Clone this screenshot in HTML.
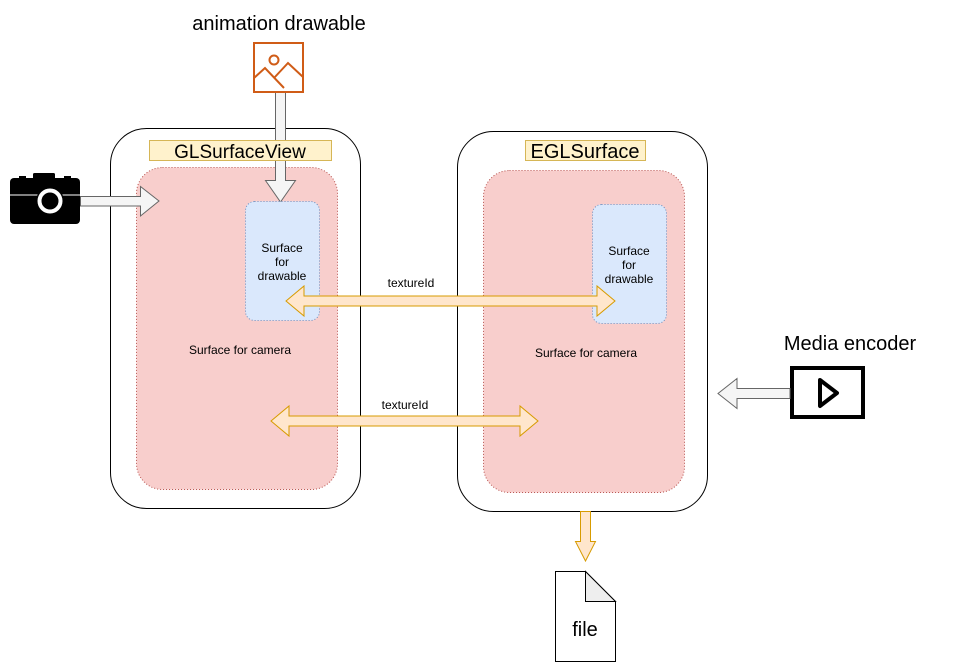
<!DOCTYPE html>
<html><head><meta charset="utf-8"><style>
html,body{margin:0;padding:0;background:#fff;width:961px;height:672px;overflow:hidden}
text{font-family:"Liberation Sans",sans-serif}
</style></head><body>
<svg width="961" height="672" viewBox="0 0 961 672" xmlns="http://www.w3.org/2000/svg">
<!-- GLSurfaceView -->
<rect x="110.5" y="128.5" width="250" height="380" rx="36" fill="#fff" stroke="#000"/>
<rect x="136.5" y="167.5" width="201" height="322" rx="26" fill="#f8cecc" stroke="#b85450" stroke-dasharray="1 2"/>
<polygon points="275.5,92.5 285.5,92.5 285.5,180.5 295.5,180.5 280.5,202 265.5,180.5 275.5,180.5" fill="#f5f5f5" stroke="#666"/>
<rect x="149.5" y="140.5" width="182" height="20" fill="#fff2cc" stroke="#d6b656"/>
<text x="240" y="158" font-size="19" text-anchor="middle">GLSurfaceView</text>
<rect x="245.5" y="201.5" width="74" height="119" rx="9" fill="#dae8fc" stroke="#6c8ebf" stroke-dasharray="1 2"/>
<text font-size="12" text-anchor="middle"><tspan x="282" y="252">Surface</tspan><tspan x="282" y="266">for</tspan><tspan x="282" y="280">drawable</tspan></text>
<text x="240" y="354" font-size="12" text-anchor="middle">Surface for camera</text>

<!-- EGLSurface -->
<rect x="457.5" y="131.5" width="250" height="380" rx="36" fill="#fff" stroke="#000"/>
<rect x="483.5" y="170.5" width="201" height="322" rx="26" fill="#f8cecc" stroke="#b85450" stroke-dasharray="1 2"/>
<rect x="525.5" y="140.5" width="120" height="20" fill="#fff2cc" stroke="#d6b656"/>
<text x="585" y="158" font-size="20" text-anchor="middle">EGLSurface</text>
<rect x="592.5" y="204.5" width="74" height="119" rx="9" fill="#dae8fc" stroke="#6c8ebf" stroke-dasharray="1 2"/>
<text font-size="12" text-anchor="middle"><tspan x="629" y="255">Surface</tspan><tspan x="629" y="269">for</tspan><tspan x="629" y="283">drawable</tspan></text>
<text x="586" y="357" font-size="12" text-anchor="middle">Surface for camera</text>

<!-- textureId arrows -->
<polygon points="286,301 304,286 304,296 597,296 597,286 615,301 597,316 597,306 304,306 304,316" fill="#ffe6cc" stroke="#d79b00"/>
<text x="411" y="287" font-size="12" text-anchor="middle">textureId</text>
<polygon points="271,421 289,406 289,416 520,416 520,406 538,421 520,436 520,426 289,426 289,436" fill="#ffe6cc" stroke="#d79b00"/>
<text x="405" y="409" font-size="12" text-anchor="middle">textureId</text>

<!-- animation drawable -->
<text x="279" y="30" font-size="20" text-anchor="middle">animation drawable</text>
<rect x="254" y="43" width="49" height="49" fill="#fff" stroke="#d05c17" stroke-width="2"/>
<circle cx="274" cy="60" r="4.5" fill="none" stroke="#d05c17" stroke-width="2"/>
<polyline points="254,78 265,68 284,88" fill="none" stroke="#d05c17" stroke-width="2"/>
<polyline points="274,78 288,63 303,77" fill="none" stroke="#d05c17" stroke-width="2"/>

<!-- camera -->
<rect x="10" y="178" width="70" height="46" rx="4" fill="#000"/>
<rect x="33" y="173" width="22" height="7" rx="1.5" fill="#000"/>
<rect x="19" y="176" width="7" height="4" fill="#000"/>
<rect x="64" y="176" width="7" height="4" fill="#000"/>
<line x1="10" y1="195" x2="80" y2="195" stroke="#fff" stroke-width="1"/>
<circle cx="50" cy="201" r="14" fill="#000"/>
<circle cx="50" cy="201" r="10.5" fill="none" stroke="#fff" stroke-width="4"/>
<polygon points="80.5,196.5 140.5,196.5 140.5,186.5 159,201 140.5,216 140.5,206 80.5,206" fill="#f5f5f5" stroke="#666"/>

<!-- media encoder -->
<text x="850" y="350" font-size="20" text-anchor="middle">Media encoder</text>
<rect x="792" y="368" width="71" height="49" fill="#fff" stroke="#000" stroke-width="4"/>
<polygon points="820,380 837,393 820,406" fill="none" stroke="#000" stroke-width="4" stroke-linejoin="round"/>
<polygon points="790,388.5 737,388.5 737,378.5 718,393.5 737,408.5 737,398.5 790,398.5" fill="#f5f5f5" stroke="#666"/>

<!-- down to file -->
<polygon points="580.5,511.5 590.5,511.5 590.5,541.5 595.5,541.5 585.5,561 575.5,541.5 580.5,541.5" fill="#ffe6cc" stroke="#d79b00"/>
<path d="M555.5,571.5 H585.5 L615.5,601.5 V661.5 H555.5 Z" fill="#fff" stroke="#000"/>
<path d="M585.5,571.5 V601.5 H615.5 Z" fill="#eee" stroke="#000"/>
<text x="585" y="636" font-size="20" text-anchor="middle">file</text>
</svg>
</body></html>
